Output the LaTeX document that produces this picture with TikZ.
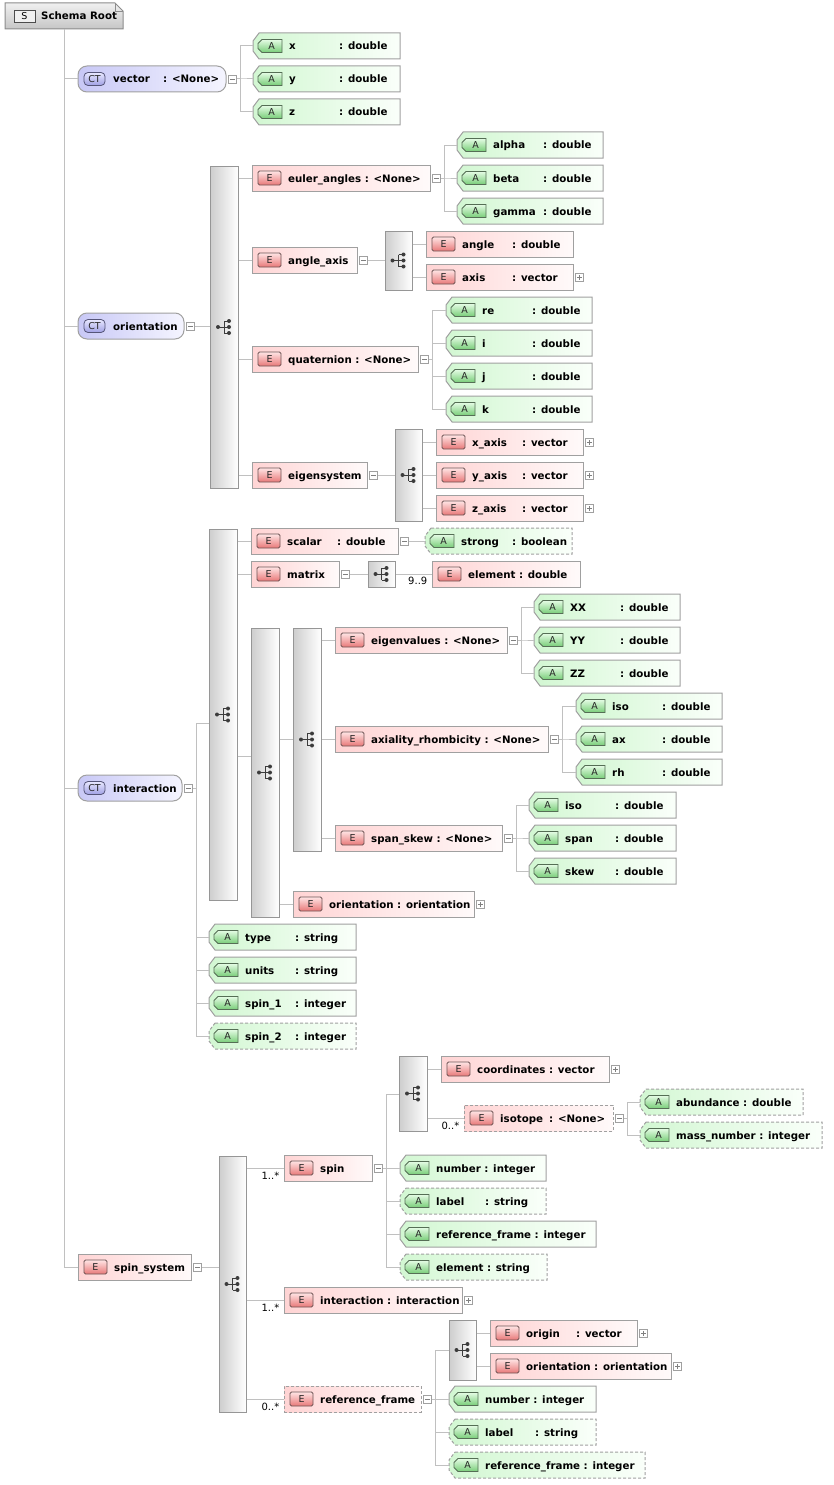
\documentclass[tikz,border=0pt]{standalone}
\usepackage{fontspec}
\newfontfamily\dvs{DejaVu Sans}
\usetikzlibrary{calc}

\newcommand\lblfont{\dvs\bfseries\fontsize{10.25pt}{12pt}\selectfont}
\newcommand\bdgfont{\dvs\fontsize{9.5pt}{11pt}\selectfont}
\newcommand\mulfont{\dvs\fontsize{10pt}{12pt}\selectfont}
% name column of fixed width, so that the types line up
\newcommand\colname[2][50pt]{\makebox[#1][l]{#2}}

\definecolor{lineg}{RGB}{192,192,192}
\definecolor{boxg}{RGB}{160,160,160}
\definecolor{signg}{RGB}{128,128,128}
\definecolor{epink}{RGB}{255,212,212}
\definecolor{epinkr}{RGB}{255,250,250}
\definecolor{agreen}{RGB}{210,247,210}
\definecolor{agreenr}{RGB}{250,255,250}
\definecolor{ctblue}{RGB}{200,200,246}
\definecolor{ctbluer}{RGB}{245,245,255}
\definecolor{seqgray}{RGB}{205,205,205}
\definecolor{seqborder}{RGB}{150,150,150}
\definecolor{icong}{RGB}{60,60,60}
\definecolor{ebadget}{RGB}{255,228,228}
\definecolor{ebadgebot}{RGB}{232,120,120}
\definecolor{ebadgeb}{RGB}{110,85,85}
\definecolor{abadget}{RGB}{228,252,228}
\definecolor{abadgebot}{RGB}{120,205,120}
\definecolor{abadgeb}{RGB}{85,110,85}
\definecolor{ctbadget}{RGB}{232,232,255}
\definecolor{ctbadgebot}{RGB}{160,160,228}
\definecolor{ctbadgeb}{RGB}{85,85,120}
\definecolor{rootT}{RGB}{240,240,240}
\definecolor{rootB}{RGB}{198,198,198}
\definecolor{rootb}{RGB}{140,140,140}

\tikzset{
  conn/.style={draw=lineg, line width=1pt},
  txt/.style={anchor=base west, inner sep=0pt, font=\lblfont, text=black},
  hull/.style={rectangle, inner sep=0pt, minimum height=26pt},
  optbox/.style={dash pattern=on 3pt off 2pt},
  ebody/.style={hull, draw=boxg, line width=1pt, left color=epink, right color=epinkr},
  abody/.style={draw=boxg, line width=1pt, left color=agreen, right color=agreenr},
  ctbody/.style={hull, rounded corners=9pt, draw=boxg, line width=1pt, left color=ctblue, right color=ctbluer},
  seqbody/.style={rectangle, inner sep=0pt, draw=seqborder, line width=1pt, left color=seqgray, right color=white},
  ebadge/.style={rectangle, inner sep=0pt, minimum width=23pt, minimum height=14pt, rounded corners=1.5pt,
    draw=ebadgeb, line width=0.8pt, top color=ebadget, bottom color=ebadgebot, font=\bdgfont, text=black!85},
  abadge/.style={draw=abadgeb, line width=0.8pt, top color=abadget, bottom color=abadgebot},
  badgetxt/.style={inner sep=0pt, font=\bdgfont, text=black!85},
  ctbadge/.style={rectangle, inner sep=0pt, minimum width=21pt, minimum height=13pt, rounded corners=4pt,
    draw=ctbadgeb, line width=0.8pt, top color=ctbadget, bottom color=ctbadgebot, font=\bdgfont, text=black!85},
  mbox/.style={rectangle, inner sep=0pt, minimum size=8pt, draw=boxg, line width=0.8pt, fill=white,
    path picture={\draw[signg, line width=0.8pt]
      ([xshift=-2.5pt]path picture bounding box.center) -- ([xshift=2.5pt]path picture bounding box.center);}},
  pbox/.style={rectangle, inner sep=0pt, minimum size=8pt, draw=boxg, line width=0.8pt, fill=white,
    path picture={\draw[signg, line width=0.8pt]
      ([xshift=-2.5pt]path picture bounding box.center) -- ([xshift=2.5pt]path picture bounding box.center)
      ([yshift=-2.5pt]path picture bounding box.center) -- ([yshift=2.5pt]path picture bounding box.center);}},
  mult/.style={inner sep=0pt, font=\mulfont, anchor=base east},
  seqicon/.pic={
    \draw[icong, line width=1pt] (-7,0) -- (-1,0) (-1,-6) -- (-1,6)
      (-1,-6) -- (4,-6) (-1,6) -- (4,6) (-1,0) -- (4,0);
    \fill[icong] (-7,0) circle (2pt) (4,-6) circle (2pt) (4,0) circle (2pt) (4,6) circle (2pt);
  }
}

% element box: [options]{name}{x0}{y centre}{x1}{text}
\newcommand\Ebox[6][]{%
  \node[ebody,#1,minimum width={#5-#3}] (#2) at ({(#3+#5)/2},#4) {};
  \node[ebadge] (#2-b) at ({#3+17.5},#4) {E};
  \node[txt] (#2-t) at ({#3+36},{#4+4}) {#6};
}
% attribute box with a chamfered left end
\newcommand\Abox[6][]{%
  \node[hull,minimum width={#5-#3}] (#2) at ({(#3+#5)/2},#4) {};
  \path[abody,#1] ({#3+6},{#4-13}) -- (#5,{#4-13}) -- (#5,{#4+13}) -- ({#3+6},{#4+13})
    -- (#3,{#4+5}) -- (#3,{#4-5}) -- cycle;
  \path[abadge] ({#3+9},{#4-6.5}) -- ({#3+29},{#4-6.5}) -- ({#3+29},{#4+6.5}) -- ({#3+9},{#4+6.5})
    -- ({#3+5},{#4+2.5}) -- ({#3+5},{#4-2.5}) -- cycle;
  \node[badgetxt] (#2-b) at ({#3+18.5},#4) {A};
  \node[txt] (#2-t) at ({#3+36},{#4+4}) {#6};
}
% complex type box
\newcommand\CTbox[5]{%
  \node[ctbody,minimum width={#4-#2}] (#1) at ({(#2+#4)/2},#3) {};
  \node[ctbadge] (#1-b) at ({#2+16.5},#3) {CT};
  \node[txt] (#1-t) at ({#2+35},{#3+4}) {#5};
}
% sequence compositor: {name}{x0}{y0}{x1}{y1}
\newcommand\SeqBox[5]{%
  \node[seqbody, minimum width={#4-#2}, minimum height={#5-#3}] (#1) at ({(#2+#4)/2},{(#3+#5)/2}) {};
  \pic at ($(#1.center)+(1,0)$) {seqicon};
}
\newcommand\Minus[2]{\node[mbox] (#1) at ($(#2.east)+(6,0)$) {};}
\newcommand\Plus[2]{\node[pbox] (#1) at ($(#2.east)+(6,0)$) {};}
\newcommand\fan[2]{\draw[conn] (#1.east) -- ++(4,0) |- (#2.west);}
\newcommand\seqto[2]{\draw[conn] (#1.east |- #2.west) -- (#2.west);}

\begin{document}
\begin{tikzpicture}[x=1pt,y=-1pt]
\useasboundingbox (0,0) rectangle (833,1485);

% ---- schema root
\node[hull, minimum width=118pt] (root) at (64,16) {};
\path[draw=rootb, line width=1pt, top color=rootT, bottom color=rootB]
  (5,3) -- (115,3) -- (123,11) -- (123,29) -- (5,29) -- cycle;
\draw[rootb, line width=0.8pt] (115,3) -- (115,11) -- (123,11);
\node[rectangle, inner sep=0pt, minimum width=21pt, minimum height=12pt, draw=black!70,
  fill=white!94!black, font=\bdgfont] (root-b) at (24.5,16) {S};
\node[txt] (root-t) at (41,20) {Schema Root};

% ---- vector
\CTbox{vec}{78}{79}{226}{\colname{vector}: <None>}
\Minus{vec-m}{vec}
\Abox{vx}{253}{46}{400}{\colname{x}: double}
\Abox{vy}{253}{79}{400}{\colname{y}: double}
\Abox{vz}{253}{112}{400}{\colname{z}: double}

% ---- orientation
\CTbox{ori}{78}{326}{184}{orientation}
\Minus{ori-m}{ori}
\SeqBox{oriseq}{210}{166}{238}{488}
\Ebox{eul}{252}{178}{430}{euler\_angles : <None>}
\Minus{eul-m}{eul}
\Abox{alpha}{457}{145}{603}{\colname{alpha}: double}
\Abox{beta}{457}{178}{603}{\colname{beta}: double}
\Abox{gamma}{457}{211}{603}{\colname{gamma}: double}
\Ebox{aax}{252}{260}{357}{angle\_axis}
\Minus{aax-m}{aax}
\SeqBox{aaseq}{385}{231}{412}{290}
\Ebox{angle}{426}{244}{573}{\colname{angle}: double}
\Ebox{axis}{426}{277}{573}{\colname{axis}: vector}
\Plus{axis-p}{axis}
\Ebox{quat}{252}{359}{418}{quaternion : <None>}
\Minus{quat-m}{quat}
\Abox{qre}{446}{310}{592}{\colname{re}: double}
\Abox{qi}{446}{343}{592}{\colname{i}: double}
\Abox{qj}{446}{376}{592}{\colname{j}: double}
\Abox{qk}{446}{409}{592}{\colname{k}: double}
\Ebox{eig}{252}{475}{367}{eigensystem}
\Minus{eig-m}{eig}
\SeqBox{esseq}{395}{429}{422}{521}
\Ebox{xax}{436}{442}{583}{\colname{x\_axis}: vector}
\Plus{xax-p}{xax}
\Ebox{yax}{436}{475}{583}{\colname{y\_axis}: vector}
\Plus{yax-p}{yax}
\Ebox{zax}{436}{508}{583}{\colname{z\_axis}: vector}
\Plus{zax-p}{zax}

% ---- interaction
\CTbox{int}{78}{788}{182}{interaction}
\Minus{int-m}{int}
\SeqBox{sa}{209}{529}{237}{900}
\coordinate (sa-in) at (209,723);
\Ebox{scal}{251}{541}{398}{\colname{scalar}: double}
\Minus{scal-m}{scal}
\Abox[optbox]{strong}{425}{541}{572}{\colname[51pt]{strong}: boolean}
\Ebox{matx}{251}{574}{339}{matrix}
\Minus{matx-m}{matx}
\SeqBox{mxseq}{368}{561}{395}{587}
\Ebox{mel}{432}{574}{580}{element : double}
\node[mult] (mel-n) at ($(mel.west)+(-4,10)$) {9..9};
\SeqBox{sb}{251}{628}{279}{917}
\coordinate (sb-in) at (251,756);
\SeqBox{sc}{293}{628}{321}{851}
\coordinate (sc-in) at (293,739);
\Ebox{orb}{293}{904}{474}{orientation : orientation}
\Plus{orb-p}{orb}
\Ebox{eigv}{335}{640}{507}{eigenvalues : <None>}
\Minus{eigv-m}{eigv}
\Abox{xx}{534}{607}{680}{\colname{XX}: double}
\Abox{yy}{534}{640}{680}{\colname{YY}: double}
\Abox{zz}{534}{673}{680}{\colname{ZZ}: double}
\Ebox{axr}{335}{739}{548}{axiality\_rhombicity : <None>}
\Minus{axr-m}{axr}
\Abox{isoa}{576}{706}{722}{\colname{iso}: double}
\Abox{axa}{576}{739}{722}{\colname{ax}: double}
\Abox{rha}{576}{772}{722}{\colname{rh}: double}
\Ebox{spsk}{335}{838}{502}{span\_skew : <None>}
\Minus{spsk-m}{spsk}
\Abox{isob}{529}{805}{676}{\colname{iso}: double}
\Abox{spanb}{529}{838}{676}{\colname{span}: double}
\Abox{skewb}{529}{871}{676}{\colname{skew}: double}
\Abox{typ}{209}{937}{356}{\colname{type}: string}
\Abox{uni}{209}{970}{356}{\colname{units}: string}
\Abox{spa}{209}{1003}{356}{\colname{spin\_1}: integer}
\Abox[optbox]{spb}{209}{1036}{356}{\colname{spin\_2}: integer}

% ---- spin_system
\Ebox{ssys}{78}{1267}{191}{spin\_system}
\Minus{ssys-m}{ssys}
\SeqBox{ss}{219}{1156}{246}{1412}
\Ebox{spin}{284}{1168}{372}{spin}
\Minus{spin-m}{spin}
\node[mult] (spin-n) at ($(spin.west)+(-4,11)$) {1..*};
\Ebox{sint}{284}{1300}{462}{interaction : interaction}
\Plus{sint-p}{sint}
\node[mult] (sint-n) at ($(sint.west)+(-4,11)$) {1..*};
\Ebox[optbox]{rfr}{284}{1399}{421}{reference\_frame}
\Minus{rfr-m}{rfr}
\node[mult] (rfr-n) at ($(rfr.west)+(-4,11)$) {0..*};

\SeqBox{sp}{399}{1056}{427}{1131}
\coordinate (sp-in) at (399,1094);
\Ebox{coord}{441}{1069}{609}{coordinates : vector}
\Plus{coord-p}{coord}
\Ebox[optbox]{isot}{464}{1118}{613}{\colname[49pt]{isotope}: <None>}
\Minus{isot-m}{isot}
\node[mult] (isot-n) at ($(isot.west)+(-4,11)$) {0..*};
\Abox[optbox]{abund}{640}{1102}{803}{abundance : double}
\Abox[optbox]{mass}{640}{1135}{822}{mass\_number : integer}
\Abox{snum}{400}{1168}{546}{number : integer}
\Abox[optbox]{slab}{400}{1201}{546}{\colname[49pt]{label}: string}
\Abox{sref}{400}{1234}{596}{reference\_frame : integer}
\Abox[optbox]{sel}{400}{1267}{547}{element : string}

\SeqBox{rf}{449}{1320}{476}{1380}
\coordinate (rf-in) at (449,1350);
\Ebox{orig}{490}{1333}{637}{\colname{origin}: vector}
\Plus{orig-p}{orig}
\Ebox{orc}{490}{1366}{671}{orientation : orientation}
\Plus{orc-p}{orc}
\Abox{rnum}{449}{1399}{596}{number : integer}
\Abox[optbox]{rlab}{449}{1432}{596}{\colname{label}: string}
\Abox[optbox]{rref}{449}{1465}{645}{reference\_frame : integer}

% ---- connectors
\foreach \c in {vec,ori,int,ssys} {\draw[conn] (root.south) |- (\c.west);}
\foreach \c in {vx,vy,vz} {\fan{vec-m}{\c}}
\draw[conn] (ori-m.east) -- (oriseq.west |- ori-m.east);
\foreach \c in {eul,aax,quat,eig} {\seqto{oriseq}{\c}}
\foreach \c in {alpha,beta,gamma} {\fan{eul-m}{\c}}
\draw[conn] (aax-m.east) -- (aaseq.west |- aax-m.east);
\foreach \c in {angle,axis} {\seqto{aaseq}{\c}}
\foreach \c in {qre,qi,qj,qk} {\fan{quat-m}{\c}}
\draw[conn] (eig-m.east) -- (esseq.west |- eig-m.east);
\foreach \c in {xax,yax,zax} {\seqto{esseq}{\c}}

\draw[conn] (int-m.east) -- ++(4,0) |- (sa-in);
\foreach \c in {typ,uni,spa,spb} {\fan{int-m}{\c}}
\foreach \c in {scal,matx} {\seqto{sa}{\c}}
\draw[conn] (sa.east |- sb-in) -- (sb-in);
\draw[conn] (scal-m.east) -- (strong.west);
\draw[conn] (matx-m.east) -- (mxseq.west |- matx-m.east);
\draw[conn] (mxseq.east) -- (mel.west);
\draw[conn] (sb.east |- sc-in) -- (sc-in);
\seqto{sb}{orb}
\foreach \c in {eigv,axr,spsk} {\seqto{sc}{\c}}
\foreach \c in {xx,yy,zz} {\fan{eigv-m}{\c}}
\foreach \c in {isoa,axa,rha} {\fan{axr-m}{\c}}
\foreach \c in {isob,spanb,skewb} {\fan{spsk-m}{\c}}

\draw[conn] (ssys-m.east) -- (ss.west |- ssys-m.east);
\foreach \c in {spin,sint,rfr} {\seqto{ss}{\c}}
\draw[conn] (spin-m.east) -- ++(4,0) |- (sp-in);
\foreach \c in {snum,slab,sref,sel} {\fan{spin-m}{\c}}
\foreach \c in {coord,isot} {\seqto{sp}{\c}}
\foreach \c in {abund,mass} {\fan{isot-m}{\c}}
\draw[conn] (rfr-m.east) -- ++(4,0) |- (rf-in);
\foreach \c in {rnum,rlab,rref} {\fan{rfr-m}{\c}}
\foreach \c in {orig,orc} {\seqto{rf}{\c}}
\end{tikzpicture}
\end{document}
